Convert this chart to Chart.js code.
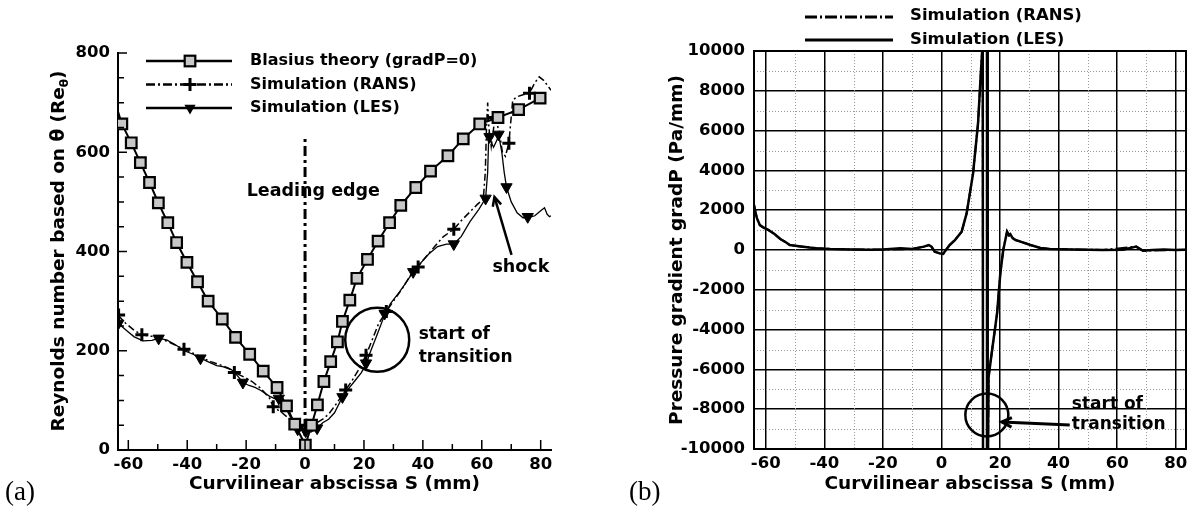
<!DOCTYPE html>
<html lang="en">
<head>
  <meta charset="UTF-8">
  <title>Momentum thickness Reynolds number and pressure gradient</title>
  <script src="https://cdn.jsdelivr.net/npm/chart.js"></script>
  <style>
    body {
      margin: 0;
      background: #FFFFFF;
      width: 1195px;
      height: 515px;
      position: relative;
      overflow: hidden;
    }
    #chartA { position: absolute; left: 0; top: 0; }
    #chartB { position: absolute; left: 600px; top: 0; }
    .tag {
      position: absolute;
      top: 478px;
      font-family: "Liberation Serif", serif;
      font-size: 27px;
      line-height: 27px;
      color: #000;
    }
  </style>
</head>
<body>
  <canvas id="chartA" width="600" height="515"></canvas>
  <canvas id="chartB" width="595" height="515"></canvas>
  <div class="tag" style="left:5px">(a)</div>
  <div class="tag" style="left:629px">(b)</div>

  <script>
    const FONT = '"DejaVu Sans", "Liberation Sans", sans-serif';

    // ---- panel (a) : Re_theta versus S ----
    const sBlasius  = [-63.5, -62.2, -59.0, -55.9, -52.8, -49.8, -46.6, -43.6, -40.1, -36.5, -32.9, -28.1, -23.6, -18.8, -14.2, -9.5, -6.3, -3.5, 0.1, 2.2, 4.2, 6.4, 8.7, 11.0, 12.7, 15.2, 17.6, 21.2, 24.8, 28.7, 32.5, 37.6, 42.6, 48.5, 53.7, 59.3, 65.5, 72.5, 79.8];
    const reBlasius = [682, 657, 619, 579, 539, 498, 458, 418, 378, 339, 300, 264, 227, 193, 159, 126, 89, 52, 10, 50, 91, 138, 178, 218, 259, 302, 346, 384, 421, 458, 493, 529, 562, 593, 627, 657, 670, 686, 709];

    const sRansA  = [-63.5, -61, -58, -55.4, -52, -48, -45, -41.1, -38, -35, -32, -29, -26, -24, -21, -18, -15, -12, -10.8, -8, -6, -4, -2, 0.3, 2, 4, 6, 8, 10, 12, 13.8, 16, 18, 20.7, 23, 25, 27.6, 30, 33, 36.4, 38.4, 40, 44, 47, 50.5, 53, 56, 58.5, 60.5, 61.2, 61.6, 62.0, 62.4, 63.2, 64.5, 66, 67, 68, 69.2, 70.5, 72, 74, 76.2, 78, 79.5, 81, 83.5];
    const reRansA = [272, 256, 241, 232, 229, 222, 214, 203, 195, 186, 178, 172, 165, 156, 148, 138, 124, 104, 87, 76, 66, 55, 42, 48, 47, 55, 62, 72, 88, 105, 121, 140, 160, 191, 225, 255, 279, 300, 325, 358, 369, 382, 410, 430, 445, 462, 480, 495, 505, 560, 650, 700, 650, 612, 670, 640, 600, 592, 618, 705, 712, 716, 719, 740, 752, 745, 725];
    const sRansMarkA  = [-63.3, -55.4, -41.1, -24.0, -10.8, 0.3, 13.8, 20.7, 27.6, 38.4, 50.5, 64.5, 69.2, 76.2];
    const reRansMarkA = [272, 232, 203, 156, 87, 50, 121, 191, 279, 369, 445, 670, 618, 719];

    const sLesA  = [-63.5, -62, -60, -58, -55, -52, -49.7, -47, -44, -41, -38, -35.5, -33, -30, -28, -25, -23, -21.1, -19, -17, -15, -12, -8.9, -6, -4, -2.5, 0.2, 2, 4.1, 6, 8, 10, 12.7, 15, 17, 19, 20.7, 22, 24, 27, 29, 32, 34, 36.7, 39, 42, 45, 48, 50.5, 53, 56, 59, 61.3, 62.0, 62.4, 62.8, 64, 65.8, 66.8, 67.6, 68.4, 70, 72, 74, 75.6, 78, 80, 81.3, 82.2, 83, 83.5];
    const reLesA = [258, 248, 238, 228, 220, 221, 225, 222, 212, 200, 193, 185, 178, 170, 168, 162, 150, 136, 130, 126, 120, 108, 100, 78, 55, 42, 38, 36, 44, 55, 62, 75, 107, 125, 140, 155, 172, 195, 225, 272, 295, 318, 335, 359, 375, 395, 410, 415, 415, 430, 460, 485, 507, 560, 640, 625, 610, 633, 600, 560, 530, 500, 478, 468, 468, 472, 482, 488, 475, 470, 472];
    const sLesMarkA  = [-63.4, -49.7, -35.5, -21.1, -8.9, -2.5, 0.2, 4.1, 12.7, 20.7, 27.0, 36.7, 50.5, 61.3, 62.6, 65.7, 68.4, 75.6];
    const reLesMarkA = [255, 225, 185, 136, 104, 42, 38, 44, 107, 175, 275, 359, 415, 507, 631, 636, 530, 470];

    const sLeadingEdge  = [0, 0];
    const reLeadingEdge = [0, 629];

    const xTicksA  = [-60, -50, -40, -30, -20, -10, 0, 10, 20, 30, 40, 50, 60, 70, 80];
    const xLabelsA = [-60, -40, -20, 0, 20, 40, 60, 80];
    const yTicksA  = [0, 50, 100, 150, 200, 250, 300, 350, 400, 450, 500, 550, 600, 650, 700, 750, 800];
    const yLabelsA = [0, 200, 400, 600, 800];

    // ---- panel (b) : gradP versus S ----
    const sLesB = [-64, -63.5, -63, -62, -61, -59, -57, -55, -53, -51.8, -48, -45, -42.7, -38, -30, -25, -20, -14, -10, -6, -4.3, -3.4, -2.3, -0.6, 0.6, 1.1, 2.8, 4.6, 6.9, 8.6, 10.8, 12.5, 13.3, 13.9, 14.1, 14.2, 15.5, 15.55, 15.7, 15.8, 16.1, 17.3, 19.0, 20.1, 21.1, 22.4, 23.0, 23.5, 24.3, 25.3, 27, 30.4, 33.8, 37, 45, 55, 62, 66.5, 68.8, 72, 76, 80, 83.5];
    const gpLesB = [2260, 1900, 1600, 1250, 1150, 1000, 800, 550, 380, 250, 180, 120, 85, 50, 20, 10, 20, 85, 50, 170, 250, 170, -85, -170, -200, -85, 250, 500, 920, 1840, 3850, 6370, 8500, 10000, 12000, -12000, -12000, 12000, 12000, -12000, -6370, -5025, -3180, -1170, 0, 920, 750, 800, 600, 500, 420, 250, 100, 50, 20, 0, 10, 170, -35, 0, 20, 0, 10];
    const sRansB = [-64, -63.5, -63, -62, -61, -59, -57, -55, -53, -51.8, -48, -45, -42.7, -38, -30, -20, -10, -6, -4.3, -3.4, -2.3, -0.6, 0.6, 1.1, 2.8, 4.6, 6.9, 8.6, 10.8, 12.5, 13.3, 13.9, 14.1, 14.2, 15.8, 16.1, 17.3, 19.0, 20.1, 21.1, 22.4, 23.0, 24.3, 25.3, 27, 30.4, 33.8, 37, 55, 66.5, 68.8, 83.5];
    const gpRansB = [2260, 1900, 1600, 1250, 1150, 1000, 800, 550, 380, 250, 180, 120, 85, 50, 20, 20, 50, 170, 250, 170, -85, -170, -200, -85, 250, 500, 920, 1840, 3850, 6370, 8500, 10000, 12000, -12000, -12000, -6370, -5025, -3180, -1170, 0, 920, 750, 600, 500, 420, 250, 100, 50, 0, 170, -35, 10];

    const xLabelsB = [-60, -40, -20, 0, 20, 40, 60, 80];
    const xMinorB  = [-50, -30, -10, 10, 30, 50, 70];
    const yLabelsB = [-10000, -8000, -6000, -4000, -2000, 0, 2000, 4000, 6000, 8000, 10000];
    const yMinorB  = [-9000, -7000, -5000, -3000, -1000, 1000, 3000, 5000, 7000, 9000];

    function pts(xs, ys) {
      return xs.map((x, i) => ({ x: x, y: ys[i] }));
    }

    function arrow(ctx, x1, y1, x2, y2, head) {
      ctx.beginPath();
      ctx.moveTo(x1, y1);
      ctx.lineTo(x2, y2);
      ctx.stroke();
      const ang = Math.atan2(y2 - y1, x2 - x1);
      ctx.beginPath();
      ctx.moveTo(x2 - head * Math.cos(ang - 0.45), y2 - head * Math.sin(ang - 0.45));
      ctx.lineTo(x2, y2);
      ctx.lineTo(x2 - head * Math.cos(ang + 0.45), y2 - head * Math.sin(ang + 0.45));
      ctx.stroke();
    }

    // rotated axis title, parts = [{text, size, dy}]
    function rotatedTitle(ctx, cx, cy, parts) {
      ctx.save();
      ctx.translate(cx, cy);
      ctx.rotate(-Math.PI / 2);
      ctx.fillStyle = '#000';
      ctx.textBaseline = 'middle';
      ctx.textAlign = 'left';
      let total = 0;
      parts.forEach(p => {
        ctx.font = 'bold ' + p.size + 'px ' + FONT;
        p.w = ctx.measureText(p.text).width;
        total += p.w;
      });
      let pos = -total / 2;
      parts.forEach(p => {
        ctx.font = 'bold ' + p.size + 'px ' + FONT;
        ctx.fillText(p.text, pos, p.dy || 0);
        pos += p.w;
      });
      ctx.restore();
    }

    function marker(ctx, kind, x, y) {
      ctx.save();
      ctx.strokeStyle = '#000';
      if (kind === 'rect') {
        ctx.fillStyle = '#c8c8c8';
        ctx.lineWidth = 2.2;
        ctx.fillRect(x - 5.3, y - 5.3, 10.6, 10.6);
        ctx.strokeRect(x - 5.3, y - 5.3, 10.6, 10.6);
      } else if (kind === 'cross') {
        ctx.lineWidth = 3;
        ctx.beginPath();
        ctx.moveTo(x - 6.5, y); ctx.lineTo(x + 6.5, y);
        ctx.moveTo(x, y - 6.5); ctx.lineTo(x, y + 6.5);
        ctx.stroke();
      } else {
        ctx.fillStyle = '#000';
        ctx.beginPath();
        ctx.moveTo(x - 5.6, y - 3.2);
        ctx.lineTo(x + 5.6, y - 3.2);
        ctx.lineTo(x, y + 6.5);
        ctx.closePath();
        ctx.fill();
      }
      ctx.restore();
    }

    const legendA = [
      { label: 'Blasius theory (gradP=0)', dash: [], width: 2.5, mark: 'rect' },
      { label: 'Simulation (RANS)', dash: [9, 3, 2, 3], width: 2.5, mark: 'cross' },
      { label: 'Simulation (LES)', dash: [], width: 2.5, mark: 'tri' }
    ];

    const panelAPlugin = {
      id: 'panelA',
      afterDraw(chart) {
        const { ctx, chartArea: area, scales: { x, y } } = chart;
        ctx.save();
        ctx.strokeStyle = '#000';
        ctx.fillStyle = '#000';

        // inward tick marks
        ctx.lineWidth = 1.5;
        ctx.beginPath();
        xTicksA.forEach(v => {
          const px = x.getPixelForValue(v);
          const len = xLabelsA.includes(v) ? 10 : 6;
          ctx.moveTo(px, area.bottom);
          ctx.lineTo(px, area.bottom - len);
        });
        yTicksA.forEach(v => {
          const py = y.getPixelForValue(v);
          const len = yLabelsA.includes(v) ? 9 : 6;
          ctx.moveTo(area.left, py);
          ctx.lineTo(area.left + len, py);
        });
        ctx.stroke();

        // legend
        legendA.forEach((item, i) => {
          const ly = 61 + i * 23.5;
          ctx.save();
          ctx.lineWidth = item.width;
          ctx.setLineDash(item.dash);
          ctx.beginPath();
          ctx.moveTo(146, ly);
          ctx.lineTo(232, ly);
          ctx.stroke();
          ctx.restore();
          marker(ctx, item.mark, 190, ly);
          ctx.font = 'bold 16px ' + FONT;
          ctx.textBaseline = 'middle';
          ctx.textAlign = 'left';
          ctx.fillText(item.label, 250, ly);
        });

        // annotations
        ctx.font = 'bold 17.5px ' + FONT;
        ctx.textBaseline = 'middle';
        ctx.textAlign = 'left';
        ctx.fillText('Leading edge', x.getPixelForValue(-19.8), y.getPixelForValue(520));
        ctx.fillText('shock', x.getPixelForValue(63.6), y.getPixelForValue(367));
        ctx.font = 'bold 17px ' + FONT;
        ctx.fillText('start of', x.getPixelForValue(38.6), y.getPixelForValue(232));
        ctx.fillText('transition', x.getPixelForValue(38.6), y.getPixelForValue(187));

        ctx.lineWidth = 2.5;
        ctx.beginPath();
        ctx.arc(x.getPixelForValue(24.5), y.getPixelForValue(222), 32, 0, Math.PI * 2);
        ctx.stroke();

        arrow(ctx, x.getPixelForValue(70.1), y.getPixelForValue(393),
                   x.getPixelForValue(64.3), y.getPixelForValue(510), 10);
        ctx.restore();

        rotatedTitle(ctx, 59, 251, [
          { text: 'Reynolds number based on θ (Re', size: 18.5 },
          { text: 'θ', size: 12, dy: 6 },
          { text: ')', size: 18.5 }
        ]);
      }
    };

    const panelBPlugin = {
      id: 'panelB',
      beforeDatasetsDraw(chart) {
        const { ctx, chartArea: area, scales: { x, y } } = chart;
        ctx.save();
        ctx.strokeStyle = '#9a9a9a';
        ctx.lineWidth = 1;
        ctx.setLineDash([1, 2]);
        ctx.beginPath();
        xMinorB.forEach(v => {
          const px = Math.round(x.getPixelForValue(v)) + 0.5;
          ctx.moveTo(px, area.top);
          ctx.lineTo(px, area.bottom);
        });
        yMinorB.forEach(v => {
          const py = Math.round(y.getPixelForValue(v)) + 0.5;
          ctx.moveTo(area.left, py);
          ctx.lineTo(area.right, py);
        });
        ctx.stroke();
        ctx.restore();
      },
      afterDraw(chart) {
        const { ctx, chartArea: area, scales: { x, y } } = chart;
        ctx.save();
        ctx.strokeStyle = '#000';
        ctx.fillStyle = '#000';
        ctx.lineWidth = 2;
        ctx.strokeRect(area.left, area.top, area.right - area.left, area.bottom - area.top);

        // legend above the frame
        ctx.lineWidth = 3;
        ctx.setLineDash([12, 3, 2, 3]);
        ctx.beginPath();
        ctx.moveTo(205, 17);
        ctx.lineTo(293, 17);
        ctx.stroke();
        ctx.setLineDash([]);
        ctx.beginPath();
        ctx.moveTo(205, 40);
        ctx.lineTo(293, 40);
        ctx.stroke();
        ctx.font = 'bold 16.5px ' + FONT;
        ctx.textBaseline = 'middle';
        ctx.textAlign = 'left';
        ctx.fillText('Simulation (RANS)', 310, 16);
        ctx.fillText('Simulation (LES)', 310, 40);

        // start of transition
        ctx.lineWidth = 2.5;
        ctx.beginPath();
        ctx.arc(x.getPixelForValue(15.5), y.getPixelForValue(-8290), 21.5, 0, Math.PI * 2);
        ctx.stroke();
        ctx.lineWidth = 3;
        arrow(ctx, x.getPixelForValue(43.8), y.getPixelForValue(-8790),
                   x.getPixelForValue(20.6), y.getPixelForValue(-8640), 11);
        ctx.font = 'bold 17px ' + FONT;
        ctx.fillText('start of', x.getPixelForValue(44.5), y.getPixelForValue(-7790));
        ctx.fillText('transition', x.getPixelForValue(44.5), y.getPixelForValue(-8790));
        ctx.restore();

        rotatedTitle(ctx, 77, 250, [
          { text: 'Pressure gradient gradP (Pa/mm)', size: 18.5 }
        ]);
      }
    };

    const tickFont = { family: FONT, size: 16.5, weight: 'bold' };
    const titleFont = { family: FONT, size: 18.5, weight: 'bold' };

    new Chart(document.getElementById('chartA'), {
      type: 'line',
      data: {
        datasets: [
          {
            data: pts(sBlasius, reBlasius),
            borderColor: '#000',
            borderWidth: 2,
            pointStyle: 'rect',
            pointRadius: ctx => (ctx.dataIndex === 0 ? 0 : 7.5),
            pointBackgroundColor: '#c8c8c8',
            pointBorderColor: '#000',
            pointBorderWidth: 2.2
          },
          {
            data: pts(sLesMarkA, reLesMarkA),
            showLine: false,
            pointStyle: 'triangle',
            pointRotation: 180,
            pointRadius: 6.5,
            pointBackgroundColor: '#000',
            pointBorderColor: '#000',
            pointBorderWidth: 1
          },
          {
            data: pts(sRansMarkA, reRansMarkA),
            showLine: false,
            pointStyle: 'cross',
            pointRadius: 6.5,
            pointBorderColor: '#000',
            pointBorderWidth: 3
          },
          {
            data: pts(sLesA, reLesA),
            borderColor: '#000',
            borderWidth: 1.3,
            pointRadius: 0
          },
          {
            data: pts(sRansA, reRansA),
            borderColor: '#000',
            borderWidth: 1.5,
            borderDash: [7, 3, 2, 3],
            pointRadius: 0
          },
          {
            data: pts(sLeadingEdge, reLeadingEdge),
            borderColor: '#000',
            borderWidth: 3,
            borderDash: [10, 4, 3, 4],
            pointRadius: 0
          }
        ]
      },
      options: {
        responsive: false,
        animation: false,
        layout: { padding: { left: 40, top: 53, right: 49, bottom: 20 } },
        plugins: { legend: { display: false }, tooltip: { enabled: false } },
        scales: {
          x: {
            type: 'linear',
            min: -63.5,
            max: 83.5,
            afterBuildTicks: s => { s.ticks = xLabelsA.map(v => ({ value: v })); },
            afterFit: s => { s.height = 45; },
            grid: { display: true, drawOnChartArea: false, drawTicks: false },
            border: { display: true, color: '#000', width: 2 },
            ticks: { color: '#000', font: tickFont, padding: 5, autoSkip: false, maxRotation: 0, callback: v => String(v) },
            title: { display: true, text: 'Curvilinear abscissa S (mm)', color: '#000', font: titleFont, padding: { top: 0, bottom: 0 } }
          },
          y: {
            type: 'linear',
            min: 0,
            max: 800,
            afterBuildTicks: s => { s.ticks = yLabelsA.map(v => ({ value: v })); },
            afterFit: s => { s.width = 78; },
            grid: { display: true, drawOnChartArea: false, drawTicks: false },
            border: { display: true, color: '#000', width: 2 },
            ticks: { color: '#000', font: tickFont, padding: 8, autoSkip: false, callback: v => String(v) }
          }
        }
      },
      plugins: [panelAPlugin]
    });

    new Chart(document.getElementById('chartB'), {
      type: 'line',
      data: {
        datasets: [
          {
            data: pts(sLesB, gpLesB),
            borderColor: '#000',
            borderWidth: 2.5,
            pointRadius: 0
          },
          {
            data: pts(sRansB, gpRansB),
            borderColor: '#000',
            borderWidth: 2,
            borderDash: [12, 3, 2, 3],
            pointRadius: 0
          }
        ]
      },
      options: {
        responsive: false,
        animation: false,
        layout: { padding: { left: 60, top: 51, right: 9, bottom: 20 } },
        plugins: { legend: { display: false }, tooltip: { enabled: false } },
        scales: {
          x: {
            type: 'linear',
            min: -64,
            max: 83.5,
            afterBuildTicks: s => { s.ticks = xLabelsB.map(v => ({ value: v })); },
            afterFit: s => { s.height = 46; },
            grid: { color: '#000', lineWidth: 1.5, drawTicks: false },
            border: { display: true, color: '#000', width: 2 },
            ticks: { color: '#000', font: tickFont, padding: 5, autoSkip: false, maxRotation: 0, callback: v => String(v) },
            title: { display: true, text: 'Curvilinear abscissa S (mm)', color: '#000', font: titleFont, padding: { top: 0, bottom: 0 } }
          },
          y: {
            type: 'linear',
            min: -10000,
            max: 10000,
            afterBuildTicks: s => { s.ticks = yLabelsB.map(v => ({ value: v })); },
            afterFit: s => { s.width = 94; },
            grid: { color: '#000', lineWidth: 1.5, drawTicks: false },
            border: { display: true, color: '#000', width: 2 },
            ticks: { color: '#000', font: tickFont, padding: 9, autoSkip: false, callback: v => String(v) }
          }
        }
      },
      plugins: [panelBPlugin]
    });
  </script>
</body>
</html>
